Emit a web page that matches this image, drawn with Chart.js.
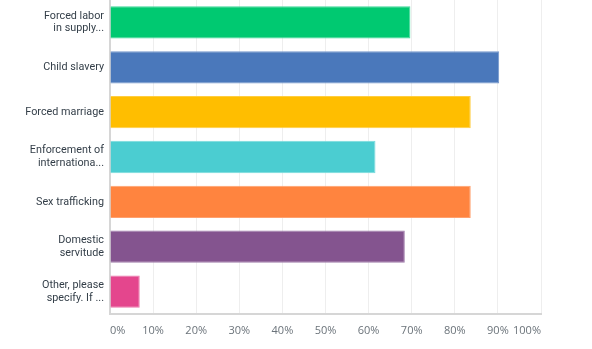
<!DOCTYPE html>
<html>
<head>
<meta charset="utf-8">
<script src="https://cdn.jsdelivr.net/npm/chart.js@4"></script>
<style>
  html, body { margin: 0; padding: 0; background: #fff; }
  #wrap { width: 592px; height: 349px; }
</style>
</head>
<body>
<div id="wrap"><canvas id="chart" width="592" height="349"></canvas></div>
<script>
// Answer choices and share of respondents (%)
const categories = [
  ["Forced labor", "in supply..."],
  "Child slavery",
  "Forced marriage",
  ["Enforcement of", "internationa..."],
  "Sex trafficking",
  ["Domestic", "servitude"],
  ["Other, please", "specify. If ..."]
];
const values = [69.7, 90.3, 83.7, 61.6, 83.7, 68.4, 6.9];
const barColors = ["#00c971", "#4a78bb", "#ffbe00", "#4bcdd1", "#ff843f", "#84548f", "#e4468d"];
const borderColors = ["#3fd89a", "#7497cc", "#ffcd40", "#77dadc", "#ffa06e", "#a07cab", "#ec78ad"];
const xTicks = [0, 10, 20, 30, 40, 50, 60, 70, 80, 90, 100];

const ctx = document.getElementById("chart").getContext("2d");

new Chart(ctx, {
  type: "bar",
  data: {
    labels: categories,
    datasets: [{
      data: values,
      backgroundColor: barColors,
      borderColor: borderColors,
      borderWidth: 1
    }]
  },
  options: {
    indexAxis: "y",
    responsive: false,
    animation: false,
    layout: { autoPadding: false, padding: { top: 0, right: 51, bottom: 0, left: 0 } },
    plugins: {
      legend: { display: false },
      tooltip: { enabled: false }
    },
    scales: {
      x: {
        min: 0,
        max: 100,
        afterBuildTicks: (axis) => {
          axis.ticks = xTicks.map((v) => ({ value: v }));
        },
        afterFit: (axis) => { axis.height = 35; },
        grid: { color: "#eeeeee", drawTicks: false },
        border: { color: "#d6d6d6", width: 2 },
        ticks: {
          align: "inner",
          padding: 10,
          color: "#6b737a",
          font: { family: "Open Sans", size: 11 },
          callback: (v) => v + "%"
        }
      },
      y: {
        afterFit: (axis) => {
          axis.width = 110;
          // drop the label half-height padding so bars start at the top edge
          axis.paddingTop = 0;
          axis.paddingBottom = 0;
        },
        grid: { display: false, drawTicks: false },
        border: { color: "#d6d6d6", width: 2 },
        ticks: {
          padding: 6,
          color: "#333e48",
          font: { family: "Roboto", size: 10.8, lineHeight: 1.18 }
        }
      }
    }
  }
});
</script>
</body>
</html>
